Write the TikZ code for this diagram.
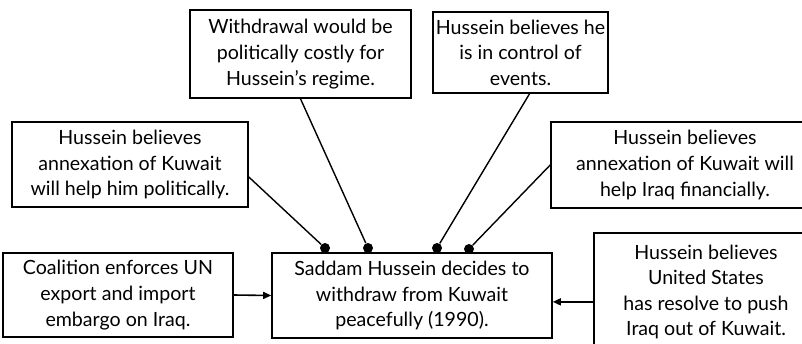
\documentclass[tikz,border=0pt]{standalone}
\usepackage{fontspec}
\setmainfont{Lato}
\usetikzlibrary{arrows.meta,calc}

\begin{document}
\begin{tikzpicture}[
  x=0.5pt,y=-0.5pt,
  font=\fontsize{9.8}{12.8}\selectfont,
  box/.style={draw,line width=0.8pt,align=center,inner sep=0pt},
  dot/.style={circle,fill=black,inner sep=0pt,minimum size=5pt},
  link/.style={line width=0.7pt},
  arrow/.style={line width=0.8pt,-{Triangle[length=4pt,width=3.5pt]}}
]
\clip (0,0) rectangle (802,343);

% causes above the decision: they feed in through the dots
\node[box,minimum width=118pt,minimum height=42.5pt] (hpol) at (130,164.5) {Hussein believes\\annexation of Kuwait\\will help him politically.};
\node[box,minimum width=110.5pt,minimum height=44pt] (cost) at (300.5,54) {Withdrawal would be\\politically costly for\\Hussein’s regime.};
\node[box,minimum width=87.5pt,minimum height=40.5pt] (ctrl) at (520.5,52.5) {Hussein believes he\\is in control of\\events.};
\node[box,minimum width=134pt,minimum height=43pt] (hfin) at (685,165) {Hussein believes\\annexation of Kuwait will\\help Iraq financially.};

% bottom row
\node[box,minimum width=115pt,minimum height=42pt] (embargo) at (118,295) {Coalition enforces UN\\export and import\\embargo on Iraq.};
\node[box,minimum width=140pt,minimum height=42.5pt] (decide) at (412,295.5) {Saddam Hussein decides to\\withdraw from Kuwait\\peacefully (1990).};
\node[box,minimum width=112pt,minimum height=59pt] (resolve) at (706,292) {Hussein believes\\United States\\has resolve to push\\Iraq out of Kuwait.};

\node[dot] (d1) at (325,248) {};
\node[dot] (d2) at (368,248) {};
\node[dot] (d3) at (437,248) {};
\node[dot] (d4) at (469,249) {};

\draw[link] (hpol.-6) -- (d1);
\draw[link] (cost.south) -- (d2);
\draw[link] ($(ctrl.south)+(9,0)$) -- (d3);
\draw[link] (hfin.west) -- (d4);

\draw[arrow] (embargo.east) -- (decide.west);
\draw[arrow] (resolve.185) -- (decide.east |- resolve.185);

\end{tikzpicture}
\end{document}
